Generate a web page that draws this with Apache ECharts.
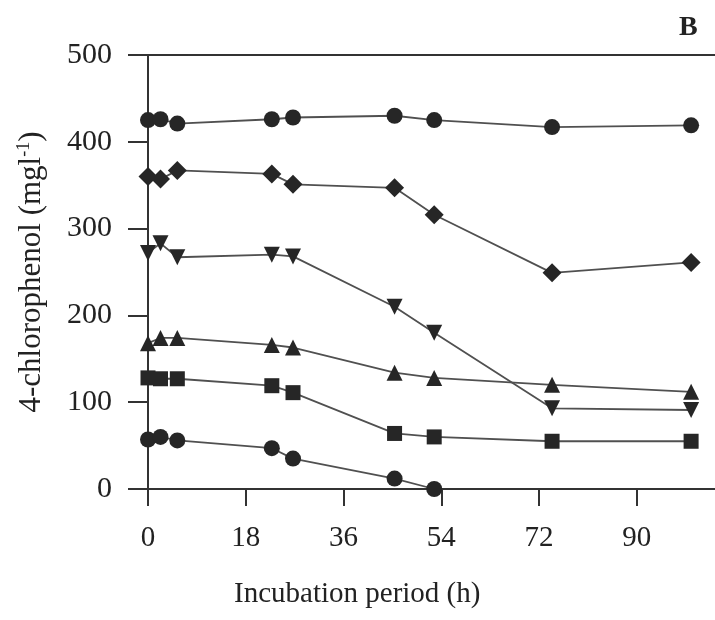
<!DOCTYPE html>
<html><head><meta charset="utf-8">
<script src="https://cdn.jsdelivr.net/npm/echarts@6/dist/echarts.min.js"></script>
<style>html,body{margin:0;padding:0;background:#fff}#c{width:715px;height:620px}</style>
</head><body><div id="c"></div>
<script>
// Incubation times (h)
const times = [0, 2.3, 5.4, 22.8, 26.7, 45.4, 52.7, 74.4, 100];
// 4-chlorophenol concentrations (mg/l)
const s425 = [425, 426, 421, 426, 428, 430, 425, 417, 419];
const s360 = [360, 357, 367, 363, 351, 347, 316, 249, 261];
const s270 = [272, 283, 267, 270, 268, 210, 180, 93, 91];
const s170 = [168, 174, 174, 166, 163, 134, 128, 120, 112];
const s128 = [128, 127, 127, 119, 111, 64, 60, 55, 55];
const s57 = [57, 60, 56, 47, 35, 12, 0];
const xTicks = [0, 18, 36, 54, 72, 90];
const yTicks = [0, 100, 200, 300, 400, 500];

const font = '"Liberation Serif", "Times New Roman", serif';
const mk = (vals) => vals.map((v, i) => [times[i], v]);
const ser = (vals, sym, rot) => ({
  type: 'line', data: mk(vals), symbol: sym, symbolSize: sym === 'rect' ? 15 : (sym === 'diamond' ? 19 : 16),
  symbolRotate: rot || 0,
  lineStyle: {color: '#505050', width: 1.8},
  itemStyle: {color: '#262626', borderColor: '#262626', borderWidth: 0},
  emphasis: {disabled: true}, animation: false
});
const chart = echarts.init(document.getElementById('c'));
chart.setOption({
  animation: false,
  grid: {left: 148, right: 0, top: 55, bottom: 131, containLabel: false},
  xAxis: [{
    type: 'value', min: 0, max: 104.4, interval: 18,
    axisLine: {lineStyle: {color: '#333', width: 2}},
    axisTick: {inside: false, length: 17, lineStyle: {color: '#333', width: 2}},
    axisLabel: {margin: 35, fontFamily: font, fontSize: 29, color: '#222', showMaxLabel: false,
      formatter: v => xTicks.includes(v) ? String(v) : ''},
    splitLine: {show: false}
  }, {
    type: 'value', position: 'top', min: 0, max: 104.4,
    axisLine: {show: true, lineStyle: {color: '#333', width: 2}},
    axisTick: {show: false}, axisLabel: {show: false}, splitLine: {show: false}
  }],
  yAxis: {
    type: 'value', min: 0, max: 500, interval: 100,
    axisLine: {show: true, lineStyle: {color: '#333', width: 2}},
    axisTick: {inside: false, length: 20, lineStyle: {color: '#333', width: 2}},
    axisLabel: {margin: 36, fontFamily: font, fontSize: 30, color: '#222',
      formatter: v => yTicks.includes(v) ? String(v) : ''},
    splitLine: {show: false},
    name: '4-chlorophenol (mgl{sup|-1})', nameLocation: 'middle', nameGap: 100, nameRotate: 90,
    nameTextStyle: {fontFamily: font, fontSize: 31, color: '#222',
      rich: {sup: {fontFamily: font, fontSize: 18, color: '#222', verticalAlign: 'top', padding: [0, 0, 15, 0]}}}
  },
  graphic: [
    {type: 'text', left: 234, top: 580, style: {text: 'Incubation period (h)', font: '29px ' + font, fill: '#222'}},
    {type: 'text', left: 679, top: 14, style: {text: 'B', font: 'bold 28px ' + font, fill: '#222'}}
  ],
  series: [
    ser(s425, 'circle'),
    ser(s360, 'diamond'),
    ser(s270, 'triangle', 180),
    ser(s170, 'triangle'),
    ser(s128, 'rect'),
    ser(s57, 'circle')
  ]
});
</script></body></html>
